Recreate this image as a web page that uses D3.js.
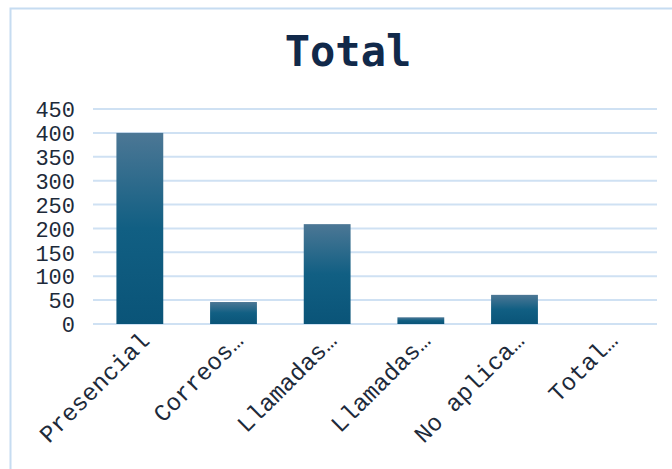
<!DOCTYPE html>
<html>
<head>
<meta charset="utf-8">
<script src="https://cdn.jsdelivr.net/npm/d3@7"></script>
<style>
  body { margin: 0; background: #fff; }
  svg { display: block; }
</style>
</head>
<body>
<div id="chart"></div>
<script>
'use strict';

var categories = ["Presencial", "Correos…", "Llamadas…", "Llamadas…", "No aplica…", "Total…"];
var values = [400, 46, 209, 14, 61, 0];
var yTicks = [0, 50, 100, 150, 200, 250, 300, 350, 400, 450];
var chartTitle = "Total";

var width = 672, height = 469;
var margins = {top: 109, bottom: 145, left: 93, right: 17};

var svg = d3.select("#chart").append("svg")
    .attr("width", width)
    .attr("height", height);

// card border
svg.append("rect")
    .attr("x", 10.5).attr("y", 8.5)
    .attr("width", 700).attr("height", 500)
    .attr("fill", "none")
    .attr("stroke", "#c6dcf1")
    .attr("stroke-width", 2);

var defs = svg.append("defs");
var grad = defs.append("linearGradient")
    .attr("id", "barGrad")
    .attr("x1", 0).attr("y1", 0).attr("x2", 0).attr("y2", 1);
grad.append("stop").attr("offset", "0%").attr("stop-color", "#4c7795");
grad.append("stop").attr("offset", "50%").attr("stop-color", "#115f83");
grad.append("stop").attr("offset", "100%").attr("stop-color", "#0a5478");

svg.append("text")
    .attr("x", 348).attr("y", 66)
    .attr("text-anchor", "middle")
    .attr("font-family", "'DejaVu Sans Mono', monospace")
    .attr("font-weight", "bold")
    .attr("font-size", 42)
    .attr("fill", "#11294a")
    .text(chartTitle);

var x = d3.scaleBand()
    .domain(d3.range(categories.length))
    .range([margins.left, width - margins.right])
    .paddingInner(0.5)
    .paddingOuter(0.25);

var y = d3.scaleLinear()
    .domain([0, 450])
    .range([height - margins.bottom, margins.top]);

// gridlines
svg.append("g").selectAll("line")
    .data(yTicks)
    .enter().append("line")
    .attr("x1", margins.left).attr("x2", width - margins.right + 2)
    .attr("y1", function(d) { return y(d); })
    .attr("y2", function(d) { return y(d); })
    .attr("stroke", "#cfe1f3")
    .attr("stroke-width", 2);

var yAxis = svg.append("g")
    .attr("transform", "translate(" + (margins.left - 18) + ",0)")
    .call(d3.axisLeft(y).tickValues(yTicks).tickSize(0).tickPadding(0));
yAxis.select(".domain").remove();
yAxis.selectAll("text")
    .attr("font-family", "'Liberation Mono', monospace")
    .attr("font-size", 22)
    .attr("fill", "#1d2a3a")
    .attr("dy", "0.35em");

svg.append("g").selectAll("rect")
    .data(values)
    .enter().append("rect")
    .attr("x", function(d, i) { return x(i); })
    .attr("width", x.bandwidth())
    .attr("y", function(d) { return y(d); })
    .attr("height", function(d) { return y(0) - y(d); })
    .attr("fill", "url(#barGrad)");

var xAxis = svg.append("g")
    .attr("transform", "translate(0," + (y(0) + 10) + ")")
    .call(d3.axisBottom(x).tickSize(0).tickFormat(function(i) { return categories[i]; }));
xAxis.select(".domain").remove();
xAxis.selectAll("text")
    .attr("font-family", "'Liberation Mono', monospace")
    .attr("font-size", 24)
    .attr("fill", "#1d2a3a")
    .attr("text-anchor", "end")
    .attr("dy", "0.35em")
    .attr("transform", "translate(3,0) rotate(-45)");
</script>
</body>
</html>
